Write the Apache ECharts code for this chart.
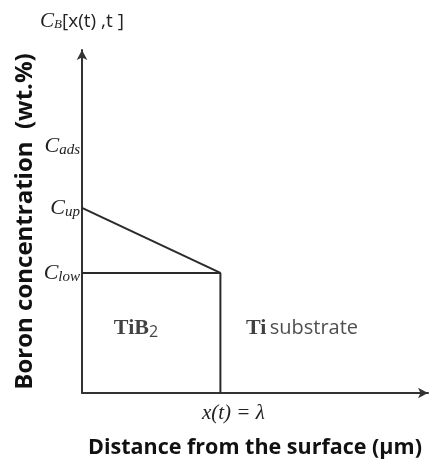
<!DOCTYPE html>
<html><head><meta charset="utf-8">
<script src="https://cdn.jsdelivr.net/npm/echarts@6/dist/echarts.min.js"></script>
<style>html,body{margin:0;padding:0;background:#fff}#c{width:435px;height:464px}</style>
</head><body><div id="c"></div>
<script>
// schematic values (arbitrary units)
const xMax = 2.5;
const lambda = 1;
const yMax = 100;
const cLow = 35;
const cUp = 54;
const cAds = 72;
const yTickValues = [cLow, cUp, cAds];
const yTickSubs = ['low', 'up', 'ads'];
const profileUpper = [[0, cUp], [lambda, cLow]];
const profileBox = [[0, cLow], [lambda, cLow], [lambda, 0]];
const regionLabels = [
  {name: 'TiB2', x: 0.39, y: 19},
  {name: 'Ti substrate', x: 1.59, y: 19}
];

const chart = echarts.init(document.getElementById('c'));
const lineColor = '#2a2a2a';
chart.setOption({
  animation: false,
  grid: {left: 82, right: 7, top: 50, bottom: 71, containLabel: false, outerBoundsMode: 'none'},
  xAxis: {
    type: 'value', min: 0, max: xMax,
    axisLine: {show: true, symbol: ['none', 'arrow'], symbolSize: [8, 10], lineStyle: {color: '#333', width: 2}},
    axisTick: {show: false}, splitLine: {show: false},
    axisLabel: {
      customValues: [lambda], margin: 10,
      formatter: () => '{i|x(t) = λ}',
      padding: [0, 0, 0, 26],
      rich: {i: {fontFamily: 'Liberation Serif', fontStyle: 'italic', fontSize: 21, color: '#222'}}
    },
    name: 'Distance from the surface (μm)', nameLocation: 'middle', nameGap: 44,
    nameTextStyle: {fontFamily: 'Open Sans', fontWeight: 'bold', fontSize: 21.5, color: '#111'}
  },
  yAxis: [{
    type: 'value', min: 0, max: yMax,
    axisLine: {show: true, symbol: ['none', 'arrow'], symbolSize: [8, 10], lineStyle: {color: '#333', width: 2}},
    axisTick: {show: false}, splitLine: {show: false},
    axisLabel: {
      customValues: yTickValues, margin: 2,
      formatter: v => '{c|C}{s|' + yTickSubs[yTickValues.indexOf(v)] + '}',
      rich: {
        c: {fontFamily: 'Liberation Serif', fontStyle: 'italic', fontSize: 22, color: '#222'},
        s: {fontFamily: 'Liberation Serif', fontStyle: 'italic', fontSize: 15, color: '#222', verticalAlign: 'bottom', padding: [9, 0, 0, 0]}
      }
    },
    name: '{c|C}{s|B}{t|[x(t) ,t ]}', nameGap: 18,
    nameTextStyle: {
      rich: {
        c: {fontFamily: 'Liberation Serif', fontStyle: 'italic', fontSize: 21, color: '#222'},
        s: {fontFamily: 'Liberation Serif', fontStyle: 'italic', fontSize: 13, color: '#222', padding: [7, 0, 0, 0]},
        t: {fontFamily: 'Open Sans', fontSize: 19, color: '#222'}
      }
    }
  }, {
    type: 'value', min: 0, max: yMax, position: 'left',
    axisLine: {show: false}, axisTick: {show: false}, axisLabel: {show: false}, splitLine: {show: false},
    name: 'Boron concentration  (wt.%)', nameLocation: 'middle', nameGap: 45, nameRotate: 90,
    nameTextStyle: {fontFamily: 'Open Sans', fontWeight: 'bold', fontSize: 24, color: '#111'}
  }],
  series: [
    {type: 'line', data: profileUpper, symbol: 'none', lineStyle: {color: lineColor, width: 2}},
    {type: 'line', data: profileBox, symbol: 'none', lineStyle: {color: lineColor, width: 2}},
    {
      type: 'scatter', symbolSize: 0,
      data: regionLabels.map(d => ({name: d.name, value: [d.x, d.y]})),
      label: {
        show: true, position: 'inside',
        formatter: p => p.name === 'TiB2' ? '{b|TiB}{bs|2}' : '{b|Ti} {n|substrate}',
        rich: {
          b: {fontFamily: 'Liberation Serif', fontWeight: 'bold', fontSize: 22, color: '#111'},
          bs: {fontFamily: 'Open Sans', fontSize: 16, color: '#111', padding: [9, 0, 0, 0]},
          n: {fontFamily: 'Open Sans', fontSize: 20, color: '#222'}
        }
      }
    }
  ]
});
</script></body></html>
